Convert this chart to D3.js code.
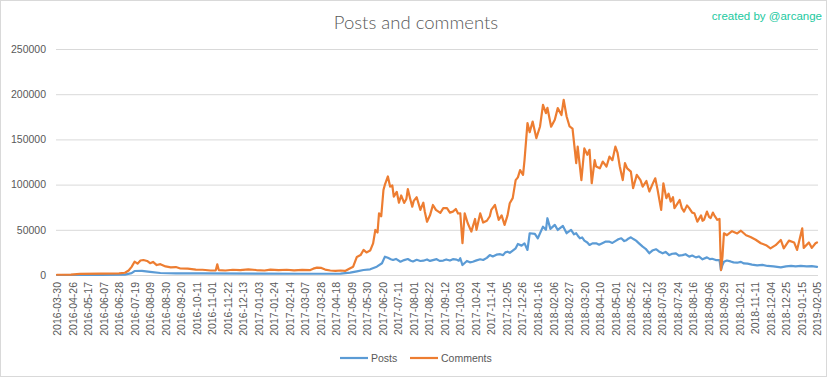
<!DOCTYPE html>
<html><head><meta charset="utf-8">
<script src="https://cdn.jsdelivr.net/npm/d3@7"></script>
<style>
html,body{margin:0;padding:0;background:#fff;}
svg{display:block;}
</style></head>
<body>
<svg id="chart" width="832" height="379"></svg>
<script>
const tickLabels = ["2016-03-30","2016-04-26","2016-05-17","2016-06-07","2016-06-28","2016-07-19","2016-08-09","2016-08-30","2016-09-20","2016-10-11","2016-11-01","2016-11-22","2016-12-13","2017-01-03","2017-01-24","2017-02-14","2017-03-07","2017-03-28","2017-04-18","2017-05-09","2017-05-30","2017-06-20","2017-07-11","2017-08-01","2017-08-22","2017-09-12","2017-10-03","2017-10-24","2017-11-14","2017-12-05","2017-12-26","2018-01-16","2018-02-06","2018-02-27","2018-03-20","2018-04-10","2018-05-01","2018-05-22","2018-06-12","2018-07-03","2018-07-24","2018-08-16","2018-09-06","2018-09-29","2018-10-21","2018-11-11","2018-12-04","2018-12-25","2019-01-15","2019-02-05"];
const labelEvery = 21;           // one label every 21 data points
const lastIndex = 1029;          // index of the last data point
const yTicks = [0,50000,100000,150000,200000,250000];
const seriesNames = ["Posts","Comments"];
const seriesColors = ["#5b9bd5","#ed7d31"];

// Comments: [data point index, value]
const comments = [[0,300],[19,400],[31,1200],[59,1500],[84,1800],[92,2500],[97,5000],[101,9000],[105,14700],[109,12500],[113,16000],[117,16600],[122,15500],[126,13000],[130,14500],[135,11000],[140,12000],[147,9500],[154,8500],[161,8800],[167,7200],[177,7000],[188,6000],[197,5800],[208,5000],[215,5200],[217,11800],[219,5500],[228,5000],[238,5800],[248,5300],[259,6200],[270,5500],[281,5000],[289,6000],[300,5400],[311,5800],[321,5200],[332,5600],[343,5500],[347,7000],[352,8100],[358,7800],[363,6000],[370,5000],[377,4600],[384,5000],[390,4500],[397,7500],[401,9200],[406,20000],[411,22000],[415,27700],[419,25000],[424,27000],[428,35000],[431,49800],[434,47000],[436,68300],[439,65000],[442,94000],[444,100000],[448,109000],[451,97800],[454,99000],[456,86700],[460,92000],[463,80000],[466,88000],[470,79700],[473,84000],[475,95000],[478,85000],[481,75600],[483,82000],[487,86000],[492,72000],[496,80000],[498,70000],[501,59000],[505,66000],[509,77500],[513,72000],[519,68700],[523,74000],[528,73900],[532,69000],[536,70100],[540,73000],[543,68000],[546,68300],[549,35100],[552,68300],[556,57500],[561,48000],[566,62000],[568,50000],[573,68300],[577,58000],[582,60000],[586,65000],[588,72000],[593,77500],[598,61000],[602,66000],[606,55400],[610,66000],[613,79400],[617,85000],[621,105000],[624,108000],[627,116000],[631,110800],[633,127000],[637,168000],[640,158000],[644,169800],[649,151400],[654,164300],[658,188300],[662,179000],[664,185000],[669,164000],[674,171700],[678,184600],[683,177000],[686,193800],[690,175400],[694,164300],[698,162000],[703,123700],[705,142000],[710,105000],[714,140000],[718,133000],[721,138500],[724,101500],[728,127000],[730,120000],[735,118000],[739,125500],[744,120000],[748,131000],[752,127000],[756,142000],[759,135000],[762,120000],[766,105000],[769,123700],[772,118000],[777,114400],[780,96000],[785,110800],[790,105000],[793,97800],[798,104000],[802,92300],[806,100000],[810,107000],[813,95000],[818,72000],[821,101500],[825,85000],[828,90000],[831,81200],[834,86000],[836,73900],[840,79000],[843,83000],[846,74000],[849,70100],[853,77000],[856,74000],[860,69000],[863,68300],[867,59000],[872,66000],[874,60000],[876,61000],[880,70100],[883,64000],[885,63000],[888,69000],[890,66000],[894,61000],[897,62000],[899,5500],[901,20300],[903,46200],[907,44000],[914,48500],[921,46000],[926,49000],[933,44000],[939,42000],[946,39000],[953,35100],[960,33000],[966,29500],[973,33000],[980,38800],[984,29500],[991,38000],[998,36000],[1002,27700],[1009,51700],[1011,30000],[1018,36000],[1022,30000],[1027,35100],[1029,36000]];

// Posts: [data point index, value]
const posts = [[0,0],[59,200],[92,500],[101,2000],[105,4400],[115,4500],[126,3500],[140,2200],[161,1800],[194,1700],[275,1500],[330,1400],[384,1500],[397,2600],[406,4000],[415,5500],[424,6300],[433,9200],[440,13000],[444,20300],[448,19000],[452,17500],[455,16600],[459,17800],[465,14700],[470,16500],[475,17700],[479,15800],[482,15000],[487,16800],[492,15500],[496,15800],[501,17200],[505,15600],[509,16500],[514,17500],[518,15600],[523,16000],[527,17200],[532,16000],[536,17500],[541,17000],[544,15800],[546,18500],[549,11000],[555,15500],[559,14000],[563,14700],[568,16200],[573,17400],[577,16600],[582,19000],[586,22000],[590,20500],[595,22500],[600,23000],[604,22000],[607,25000],[610,25800],[613,24500],[617,27000],[621,29500],[624,34300],[629,32500],[633,35000],[637,27700],[640,46200],[647,45500],[651,40600],[658,53500],[662,50000],[664,62800],[668,51000],[674,55400],[678,49800],[685,54300],[690,46200],[696,50000],[700,45000],[703,46200],[706,42500],[708,40600],[711,41500],[714,38000],[718,36000],[721,33200],[725,35000],[730,35100],[734,33500],[739,35500],[743,37000],[748,36900],[752,35500],[757,38000],[760,39500],[764,40600],[768,37500],[771,38500],[774,40500],[777,41700],[781,39500],[784,38000],[788,35000],[793,31400],[797,29000],[802,24000],[806,27000],[811,28500],[815,26000],[820,24000],[824,25500],[829,22000],[833,23500],[838,24000],[842,21500],[847,22000],[851,23000],[856,20300],[860,21500],[865,19500],[869,20500],[874,17400],[880,19500],[884,17500],[887,18000],[892,16500],[897,16600],[899,5500],[901,11000],[903,14700],[907,16000],[912,15000],[916,14000],[921,13600],[926,14500],[930,12800],[935,12500],[941,11500],[948,10700],[955,11200],[962,10000],[970,9500],[980,8500],[987,9500],[994,10000],[1000,9600],[1007,10000],[1015,9500],[1022,9800],[1029,9000]];

const svg = d3.select("#chart");
const plot = {left:56, right:818, top:49, bottom:275};

// outer border
svg.append("rect").attr("x",0.5).attr("y",0.5).attr("width",826).attr("height",376)
  .attr("fill","#fff").attr("stroke","#d9d9d9");

const x = d3.scaleLinear().domain([0,lastIndex]).range([plot.left+1, plot.right-1]);
const y = d3.scaleLinear().domain([0,250000]).range([plot.bottom, plot.top]);

// y axis with gridlines
const yAxis = svg.append("g").attr("transform",`translate(${plot.left},0)`)
  .call(d3.axisLeft(y).tickValues(yTicks).tickSize(-(plot.right-plot.left)).tickPadding(10).tickFormat(d3.format("d")));
yAxis.select(".domain").remove();
yAxis.selectAll(".tick line").attr("stroke","#d9d9d9").attr("stroke-width",1);
yAxis.selectAll(".tick text").attr("fill","#595959").style("font-family","'Liberation Sans', Arial, sans-serif").style("font-size","10.5px");

// x axis
const tickIdx = tickLabels.map((_,i)=>i*labelEvery);
const xAxis = svg.append("g").attr("transform",`translate(0,${plot.bottom})`)
  .call(d3.axisBottom(x).tickValues(tickIdx).tickSize(0).tickFormat(d=>tickLabels[d/labelEvery]));
xAxis.select(".domain").attr("stroke","#d9d9d9").attr("d",`M${plot.left},0.5H${plot.right}`);
xAxis.selectAll(".tick text")
  .attr("fill","#595959")
  .style("font-family","'Liberation Sans', Arial, sans-serif").style("font-size","10.5px")
  .attr("text-anchor","end")
  .attr("transform","rotate(-90)")
  .attr("x",-7).attr("y",0).attr("dy","0.35em");

// lines
const line = d3.line().x(d=>x(d[0])).y(d=>y(d[1])).curve(d3.curveLinear);
[posts, comments].forEach((data,i)=>{
  svg.append("path").datum(data).attr("d",line)
    .attr("fill","none").attr("stroke",seriesColors[i]).attr("stroke-width",2.2)
    .attr("stroke-linejoin","round").attr("stroke-linecap","round");
});

// title
svg.append("text").attr("x",416).attr("y",29).attr("text-anchor","middle")
  .attr("fill","#595959").style("font-family","Lato, 'Liberation Sans', sans-serif")
  .style("font-weight","300").style("font-size","18.5px").text("Posts and comments");

svg.append("text").attr("x",822).attr("y",20).attr("text-anchor","end")
  .attr("fill","#22c9a0").style("font-family","'Liberation Sans', Arial, sans-serif")
  .style("font-size","11.5px").text("created by @arcange");

// legend
const legendX = [340, 410];
const lg = svg.append("g");
seriesNames.forEach((name,i)=>{
  lg.append("line").attr("x1",legendX[i]).attr("x2",legendX[i]+28).attr("y1",358).attr("y2",358)
    .attr("stroke",seriesColors[i]).attr("stroke-width",2.2);
  lg.append("text").attr("x",legendX[i]+31).attr("y",362).attr("fill","#595959")
    .style("font-family","'Liberation Sans', Arial, sans-serif").style("font-size","10.5px").text(name);
});
</script>
</body></html>
